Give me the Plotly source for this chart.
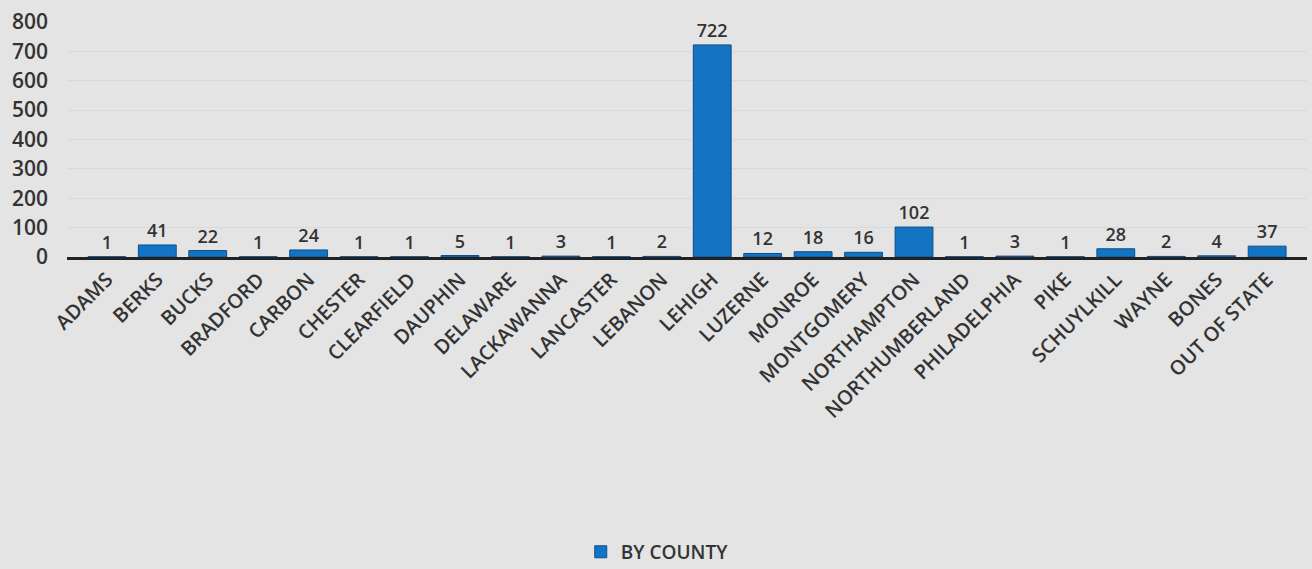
import plotly.graph_objects as go

counties = ["ADAMS", "BERKS", "BUCKS", "BRADFORD", "CARBON", "CHESTER", "CLEARFIELD",
            "DAUPHIN", "DELAWARE", "LACKAWANNA", "LANCASTER", "LEBANON", "LEHIGH",
            "LUZERNE", "MONROE", "MONTGOMERY", "NORTHAMPTON", "NORTHUMBERLAND",
            "PHILADELPHIA", "PIKE", "SCHUYLKILL", "WAYNE", "BONES", "OUT OF STATE"]
counts = [1, 41, 22, 1, 24, 1, 1, 5, 1, 3, 1, 2, 722, 12, 18, 16, 102, 1, 3, 1, 28, 2, 4, 37]
y_ticks = [0, 100, 200, 300, 400, 500, 600, 700, 800]

FONT = "Open Sans"
TXT = "#333333"

fig = go.Figure()
fig.add_trace(go.Bar(
    x=counties, y=counts, name="BY COUNTY",
    marker=dict(color="#1474c4", line=dict(color="#0d4f8a", width=1)),
    text=[str(v) for v in counts], textposition="outside", cliponaxis=False,
    textfont=dict(family=FONT, size=18, color=TXT, weight=600),
))

fig.update_layout(
    width=1312, height=569,
    paper_bgcolor="#e4e4e4", plot_bgcolor="#e4e4e4",
    margin=dict(l=67, r=5, t=22, b=312),
    bargap=0.25,
    showlegend=True,
    legend=dict(orientation="h", x=0.476, xanchor="center",
                yref="container", y=0.03, yanchor="middle",
                font=dict(family=FONT, size=19, color=TXT, weight=600),
                bgcolor="rgba(0,0,0,0)", itemwidth=30),
    font=dict(family=FONT, color=TXT),
    xaxis=dict(type="category", tickangle=-45, showgrid=False,
               tickfont=dict(family=FONT, size=20, color=TXT, weight=600),
               showline=True, linecolor="#222222", linewidth=3, ticks="",
               range=[-0.79, 23.79], automargin=False),
    yaxis=dict(range=[0, 800], tickvals=y_ticks, ticktext=[str(t) for t in y_ticks],
               showgrid=True, gridcolor="#d9d9d9", gridwidth=1, zeroline=False,
               tickfont=dict(family=FONT, size=21, color=TXT, weight=600),
               ticklabelstandoff=18, showline=False, automargin=False),
)

fig.write_html("out.html", post_script="document.body.style.margin='0';",
               config={"displayModeBar": False})
